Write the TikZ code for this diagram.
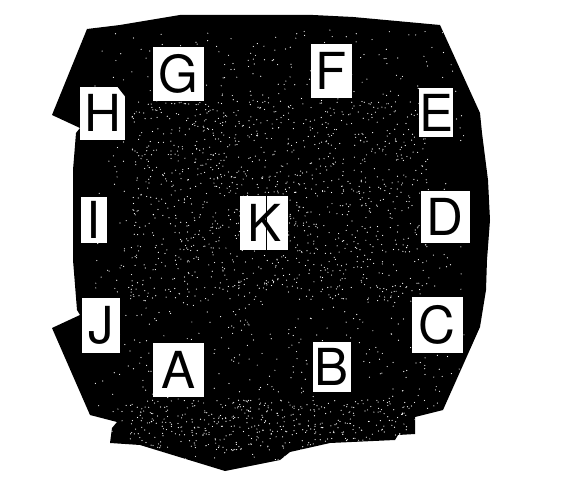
\documentclass[tikz,border=0pt]{standalone}
\usepackage{fontspec}
\setmainfont{TeX Gyre Heros}
\begin{document}
\begin{tikzpicture}[x=1pt,y=-1pt,
  lbox/.style={fill=white,inner sep=0pt,text=black,font=\fontsize{51}{51}\selectfont},
  speck/.style={fill=white}]
\useasboundingbox (0,0) rectangle (563,489);
\def\blobpath{(87,29) -- (120,25) -- (180,15) -- (313,15) -- (353,17) -- (440,25)
  -- (480,113) -- (482,133) -- (488,180) -- (490,220) -- (487,260) -- (486,290)
  -- (480,327) -- (443,410) -- (415,417) -- (415,434) -- (398,435) -- (395,440)
  -- (330,443) -- (290,452) -- (280,460) -- (225,471) -- (140,445) -- (110,443)
  -- (112,428) -- (117,422) -- (90,415) -- (52,328) -- (80,315) -- (77,310)
  -- (73,260) -- (73,220) -- (73,170) -- (76,133) -- (80,128) -- (52,115) -- cycle}
\fill[black] \blobpath;
\begin{scope}
  \clip \blobpath;
  \pgfmathsetseed{7}
  \foreach \i in {1,...,1000} {
    \pgfmathsetmacro\sx{95+370*rnd}
    \pgfmathsetmacro\sy{30+430*rnd}
    \fill[speck] (\sx,\sy) circle (0.6);
  }
  \foreach \i in {1,...,900} {
    \pgfmathsetmacro\sx{130+300*rnd}
    \pgfmathsetmacro\sy{100+200*rnd}
    \fill[speck] (\sx,\sy) circle (0.6);
  }
  \foreach \i in {1,...,400} {
    \pgfmathsetmacro\sx{130+300*rnd}
    \pgfmathsetmacro\sy{400+50*rnd}
    \fill[speck] (\sx,\sy) circle (0.6);
  }
\end{scope}
\node[lbox, minimum width=50.7, minimum height=54] (G) at (178.7,73.7) {G};
\node[lbox, minimum width=41, minimum height=54.3] (F) at (331.2,71.2) {F};
\node[lbox, minimum width=34, minimum height=49] (E) at (436.3,112.8) {E};
\node[lbox, minimum width=45, minimum height=53.3] (H) at (102.5,113.3) {H};
\fill[black] (117,86.2) -- (125.5,86.2) -- (125.5,97) -- cycle;
\node[lbox, minimum width=26.6, minimum height=46] (I) at (94,219.7) {I};
\node[lbox, minimum width=48.3, minimum height=54] (K) at (264.2,223) {K};
\draw[black, line width=0.9] ([xshift=2.5pt]K.north) -- ([xshift=2.5pt]K.south);
\node[lbox, minimum width=49.3, minimum height=52.6] (D) at (445.3,217) {D};
\node[lbox, minimum width=38.3, minimum height=55] (J) at (100.8,325.8) {J};
\node[lbox, minimum width=50.7, minimum height=54] (A) at (178.7,370.3) {A};
\node[lbox, minimum width=37.4, minimum height=50] (B) at (332,366.7) {B};
\node[lbox, minimum width=51, minimum height=55.4] (C) at (437.2,325) {C};
\end{tikzpicture}
\end{document}
